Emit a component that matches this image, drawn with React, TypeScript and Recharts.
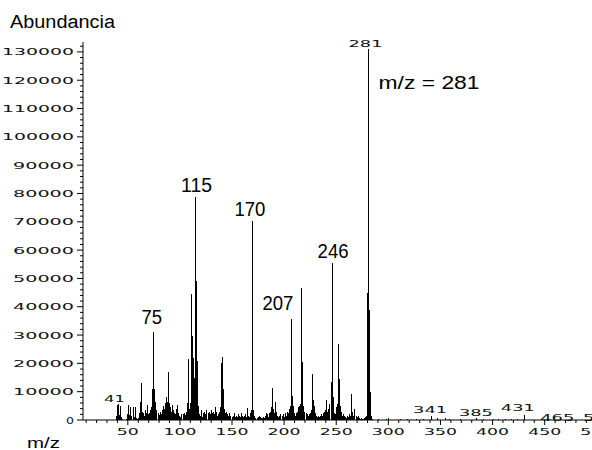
import React from 'react';
import { BarChart, Bar, XAxis, YAxis, LabelList } from 'recharts';

// m/z categories and abundances
const mzLow = [
  39, 40, 41, 42, 43, 44, 45, 46, 47, 48,
  49, 50, 51, 52, 53, 54, 55, 56, 57, 58,
  59, 60, 61, 62, 63, 64, 65, 66, 67, 68,
  69, 70, 71, 72, 73, 74, 75, 76, 77, 78,
  79, 80, 81, 82, 83, 84, 85, 86, 87, 88,
  89, 90, 91, 92, 93, 94, 95, 96, 97, 98,
  99, 100, 101, 102, 103, 104, 105, 106, 107, 108,
  109, 110, 111, 112, 113, 114, 115, 116, 117, 118,
];
const abLow = [
  1500, 5300, 5500, 1800, 4800, 1200, 500, 0, 0, 0,
  300, 2200, 5300, 1800, 4500, 1500, 4500, 1000, 4600, 800,
  400, 600, 2500, 6500, 13200, 3000, 2500, 1500, 3500, 2500,
  5300, 2000, 2500, 3500, 4500, 11000, 31000, 11000, 6500, 3500,
  2500, 1800, 3000, 2000, 3500, 5000, 4000, 6000, 8000, 6500,
  17000, 6000, 4500, 3000, 5300, 3500, 2500, 2000, 4000, 5300,
  2500, 1500, 1200, 2000, 2000, 2500, 1800, 3000, 6000, 21500,
  4000, 6000, 44500, 29500, 22000, 15000, 78800, 49000, 21000, 5000,
];
const mzMid = [
  119, 120, 121, 122, 123, 124, 125, 126, 127, 128,
  129, 130, 131, 132, 133, 134, 135, 136, 137, 138,
  139, 140, 141, 142, 143, 144, 145, 146, 147, 148,
  149, 150, 151, 152, 153, 154, 155, 156, 157, 158,
  159, 160, 161, 162, 163, 164, 165, 166, 167, 168,
  169, 170, 171, 172, 173, 174, 175, 176, 177, 178,
  179, 180, 181, 182, 183, 184, 185, 186, 187, 188,
  189, 190, 191, 192, 193, 194, 195, 196, 197, 198,
  199, 200,
];
const abMid = [
  2000, 1500, 3500, 1200, 2500, 3000, 2000, 3500, 2500, 3000,
  2000, 3500, 2500, 3000, 2000, 4500, 3000, 1500, 2000, 3000,
  4500, 20000, 22300, 11000, 4000, 2500, 3000, 2000, 1500, 2500,
  1500, 1000, 1500, 2500, 1000, 1500, 1000, 2000, 1500, 1000,
  2500, 1500, 1000, 1500, 2000, 1000, 4300, 1500, 1000, 2500,
  3500, 70300, 3500, 1500, 800, 600, 1000, 1500, 1200, 800,
  600, 1000, 600, 1500, 2500, 2000, 1000, 2500, 3000, 4500,
  11300, 4000, 2500, 6400, 3000, 1500, 1000, 1500, 2000, 1500,
  2000, 1200,
];
const mzHigh = [
  201, 202, 203, 204, 205, 206, 207, 208, 209, 210,
  211, 212, 213, 214, 215, 216, 217, 218, 219, 220,
  221, 222, 223, 224, 225, 226, 227, 228, 229, 230,
  231, 232, 233, 234, 235, 236, 237, 238, 239, 240,
  241, 242, 243, 244, 245, 246, 247, 248, 249, 250,
  251, 252, 253, 254, 255, 256, 257, 258, 259, 260,
  261, 262, 263, 264, 265, 266, 267, 268, 269, 270,
  271, 272, 273, 274, 275, 276, 277, 278, 279, 280,
  281, 282, 283, 284, 285,
];
const abHigh = [
  2500, 1500, 3000, 2500, 4000, 5000, 35700, 8500, 5000, 2500,
  1500, 2500, 3000, 4500, 5000, 5500, 46600, 20500, 5000, 3000,
  2500, 2000, 1500, 2000, 2500, 3500, 16200, 7000, 5000, 2500,
  1500, 1000, 1500, 1000, 1500, 2000, 1500, 2500, 3000, 3500,
  7000, 3000, 4000, 5500, 13400, 55500, 8000, 2500, 2000, 4500,
  5500, 26900, 14500, 5000, 3000, 1500, 2000, 1500, 1000, 800,
  1500, 1000, 2000, 1500, 9200, 3000, 1500, 3900, 1500, 1000,
  1500, 800, 500, 600, 500, 400, 800, 1000, 1500, 45000,
  131000, 38900, 10000, 1500, 500,
];
const mzSparse = [291, 298, 300, 312, 318, 327, 334, 341, 347, 355, 359, 369, 385, 391, 401, 406, 412, 418, 424, 431, 447, 465, 503];
const abSparse = [400, 300, 800, 300, 500, 300, 500, 1400, 600, 800, 500, 400, 600, 300, 300, 200, 300, 400, 300, 1700, 300, 400, 400];

// labelled peaks
const labelMz = [41, 75, 115, 170, 207, 246, 281, 341, 385, 431, 465, 503];
const labelText = ['41', '75', '115', '170', '207', '246', '281', '341', '385', '431', '465', '503'];
const annotationText = 'm/z = 281';

// axis ticks
const xMajorTicks = [50, 100, 150, 200, 250, 300, 350, 400, 450, 500];
const yMajorTicks = [0, 10000, 20000, 30000, 40000, 50000, 60000, 70000, 80000, 90000, 100000, 110000, 120000, 130000];

const xTicks: number[] = [];
for (let v = 10; v <= 500; v += 10) xTicks.push(v);
const yTicks: number[] = [];
for (let v = 0; v <= 132000; v += 2000) yTicks.push(v);

const labelByMz: Record<number, string> = {};
labelMz.forEach((m, i) => { labelByMz[m] = labelText[i]; });

const allMz = [...mzLow, ...mzMid, ...mzHigh, ...mzSparse];
const allAb = [...abLow, ...abMid, ...abHigh, ...abSparse];
const data = allMz.map((m, i) => ({ mz: m, ab: allAb[i], label: labelByMz[m] }));

// styles
const bitmapFont = { fontFamily: 'DejaVu Sans', fontSize: 9, fill: '#111' };
const bigFont = { fontFamily: 'Liberation Sans, Arial, sans-serif', fontSize: 20, fill: '#000' };
const smallLenByChars: Record<number, number> = { 1: 8, 2: 22, 3: 33, 5: 61, 6: 72 };

const bigLabelStyle: Record<string, { dx: number; dy: number; anchor: string }> = {
  '75': { dx: -2, dy: -8, anchor: 'middle' },
  '115': { dx: 1, dy: -5, anchor: 'middle' },
  '170': { dx: -3, dy: -5, anchor: 'middle' },
  '207': { dx: 2, dy: -9, anchor: 'end' },
  '246': { dx: 1, dy: -5, anchor: 'middle' },
};
const smallLabelStyle: Record<string, { dx: number; dy: number }> = {
  '41': { dx: -4, dy: -2 },
  '281': { dx: -3, dy: -2 },
  '341': { dx: -1, dy: -3 },
  '385': { dx: -1, dy: -2 },
  '431': { dx: -7, dy: -4 },
  '465': { dx: -3, dy: 2 },
  '503': { dx: 0, dy: 2 },
};

const XTick = (props: any) => {
  const { x, y, payload } = props;
  const v = payload.value;
  const major = v % 50 === 0;
  const s = String(v);
  return (
    <g>
      <line x1={x} x2={x} y1={y} y2={y + (major ? 5 : 3)} stroke="#000" strokeWidth={1} />
      {major && (
        <text x={x} y={y + 14.5} textAnchor="middle" {...bitmapFont} textLength={smallLenByChars[s.length]} lengthAdjust="spacingAndGlyphs">
          {s}
        </text>
      )}
    </g>
  );
};

const YTick = (props: any) => {
  const { x, y, payload } = props;
  const v = payload.value;
  const major = v % 10000 === 0;
  const s = String(v);
  return (
    <g>
      <line x1={x - (major ? 6 : 3)} x2={x} y1={y} y2={y} stroke="#000" strokeWidth={1} />
      {major && (
        <text x={x - 9} y={y + 3.5} textAnchor="end" {...bitmapFont} textLength={smallLenByChars[s.length]} lengthAdjust="spacingAndGlyphs">
          {s}
        </text>
      )}
    </g>
  );
};

const PeakShape = (props: any) => {
  const { x, y, width, height } = props;
  if (!height || height <= 0) return null;
  const cx = x + width / 2;
  return <rect x={cx - 0.5} y={y} width={1} height={height} fill="#000" shapeRendering="crispEdges" />;
};

const renderPeakLabel = (props: any) => {
  const { value } = props;
  if (!value) return null;
  const vb = props.viewBox && props.viewBox.x !== undefined ? props.viewBox : props;
  const x = Number(vb.x);
  const y = Number(vb.y);
  const w = Number(vb.width) || 0;
  const cx = x + w / 2;
  const text = String(value);
  if (bigLabelStyle[text]) {
    const st = bigLabelStyle[text];
    return (
      <text x={cx + st.dx} y={y + st.dy} textAnchor={st.anchor as any} {...bigFont} textLength={text.length * 10.3} lengthAdjust="spacingAndGlyphs">
        {text}
      </text>
    );
  }
  const st = smallLabelStyle[text] || { dx: 0, dy: -2 };
  return (
    <g>
      <text x={cx + st.dx} y={y + st.dy} textAnchor="middle" {...bitmapFont} textLength={text.length === 2 ? 21 : 34} lengthAdjust="spacingAndGlyphs">
        {text}
      </text>
      {text === '281' && (
        <text x={cx + 10} y={y + 40} {...bigFont} fontSize={18} textLength={101} lengthAdjust="spacingAndGlyphs">
          {annotationText}
        </text>
      )}
    </g>
  );
};

export default function App() {
  return (
    <div style={{ position: 'absolute', left: 0, top: 0, width: 592, height: 450, overflow: 'hidden', background: '#fff' }}>
      <BarChart width={602} height={450} data={data} margin={{ top: 42, right: 0, bottom: 0, left: 0 }} barGap={0} barCategoryGap={0}>
        <XAxis
          dataKey="mz"
          type="number"
          domain={[7, 505]}
          ticks={xTicks}
          interval={0}
          height={30}
          tickSize={0}
          tickMargin={0}
          tickLine={false}
          axisLine={{ stroke: '#000', strokeWidth: 1 }}
          tick={<XTick />}
          allowDataOverflow
        />
        <YAxis
          type="number"
          domain={[0, 133500]}
          ticks={yTicks}
          interval={0}
          width={83}
          tickSize={0}
          tickMargin={0}
          tickLine={false}
          axisLine={{ stroke: '#000', strokeWidth: 1 }}
          tick={<YTick />}
          allowDataOverflow
        />
        <Bar dataKey="ab" fill="#000" barSize={1} shape={<PeakShape />} isAnimationActive={false}>
          <LabelList dataKey="label" content={renderPeakLabel} />
        </Bar>
      </BarChart>
      <svg width={592} height={450} style={{ position: 'absolute', left: 0, top: 0, pointerEvents: 'none' }}>
        <text x={10} y={28} fontFamily="Liberation Sans, Arial, sans-serif" fontSize={18} fill="#000" textLength={105} lengthAdjust="spacingAndGlyphs">
          Abundancia
        </text>
        <text x={27} y={448} fontFamily="Liberation Sans, Arial, sans-serif" fontSize={14} fill="#000" textLength={33} lengthAdjust="spacingAndGlyphs">
          m/z
        </text>
      </svg>
    </div>
  );
}
